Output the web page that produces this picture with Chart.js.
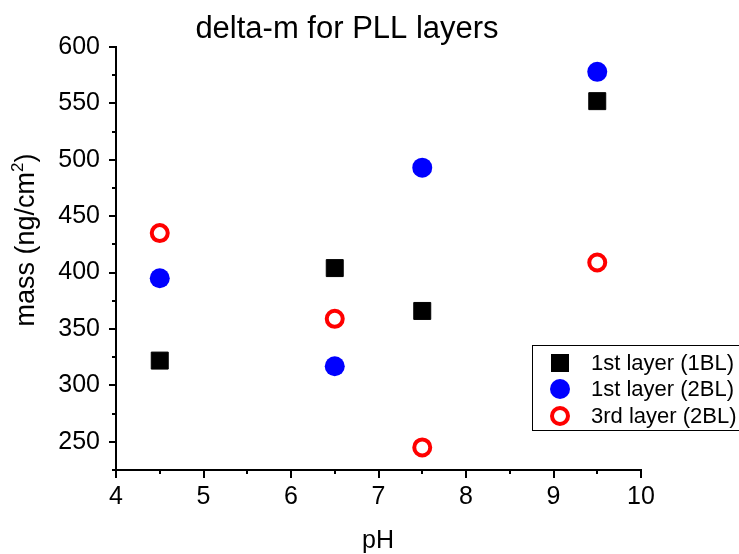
<!DOCTYPE html>
<html><head><meta charset="utf-8">
<script src="https://cdn.jsdelivr.net/npm/chart.js@4/dist/chart.umd.min.js"></script>
<style>html,body{margin:0;padding:0;background:#fff;overflow:hidden}</style>
</head><body>
<canvas id="c" width="739" height="554" style="display:block"></canvas>
<script>
const pH = [4.5, 6.5, 7.5, 9.5];
const layer1st1BL = [322, 404, 366, 552];
const layer1st2BL = [395, 317, 493, 578];
const layer3rd2BL = [435, 359, 245, 409];
const seriesNames = ['1st layer (1BL)', '1st layer (2BL)', '3rd layer (2BL)'];
const xTickValues = [4, 5, 6, 7, 8, 9, 10];
const xMinorValues = [4.5, 5.5, 6.5, 7.5, 8.5, 9.5];
const yTickValues = [250, 300, 350, 400, 450, 500, 550, 600];
const yMinorValues = [225, 275, 325, 375, 425, 475, 525, 575];
const chartTitle = 'delta-m for PLL layers';
const xTitle = 'pH';
const yTitleMain = 'mass (ng/cm';
const yTitleSup = '2';
const yTitleEnd = ')';

const FONT = '"Liberation Sans", Arial, sans-serif';

function pts(ys){ return pH.map((x,i)=>({x:x, y:ys[i]})); }

const decor = {
  id: 'decor',
  afterDraw(chart){
    const ctx = chart.ctx;
    const xs = chart.scales.x, ys = chart.scales.y;
    const ca = chart.chartArea;
    ctx.save();
    // minor ticks
    ctx.strokeStyle = '#000'; ctx.lineWidth = 2;
    ctx.beginPath();
    xMinorValues.forEach(v=>{ const px = Math.round(xs.getPixelForValue(v)); ctx.moveTo(px, ca.bottom); ctx.lineTo(px, ca.bottom+4); });
    yMinorValues.forEach(v=>{ const py = Math.round(ys.getPixelForValue(v)); ctx.moveTo(ca.left, py); ctx.lineTo(ca.left-4, py); });
    ctx.stroke();
    // title
    ctx.fillStyle = '#000';
    ctx.textAlign = 'center'; ctx.textBaseline = 'alphabetic';
    ctx.font = '31px ' + FONT;
    ctx.fillText(chartTitle, 347, 38);
    // x title
    ctx.font = '25px ' + FONT;
    ctx.fillText(xTitle, 378, 548);
    // y title with superscript
    ctx.save();
    ctx.translate(34, 240);
    ctx.rotate(-Math.PI/2);
    ctx.font = '27px ' + FONT;
    const w1 = ctx.measureText(yTitleMain).width;
    const w3 = ctx.measureText(yTitleEnd).width;
    ctx.font = '17px ' + FONT;
    const w2 = ctx.measureText(yTitleSup).width;
    const total = w1 + w2 + w3;
    let x0 = -total/2;
    ctx.textAlign = 'left';
    ctx.font = '27px ' + FONT;
    ctx.fillText(yTitleMain, x0, 0);
    ctx.font = '17px ' + FONT;
    ctx.fillText(yTitleSup, x0 + w1, -11);
    ctx.font = '27px ' + FONT;
    ctx.fillText(yTitleEnd, x0 + w1 + w2, 0);
    ctx.restore();
    // legend
    ctx.lineWidth = 1;
    ctx.strokeStyle = '#000';
    ctx.fillStyle = '#fff';
    ctx.fillRect(532.5, 345.5, 210, 85);
    ctx.strokeRect(532.5, 345.5, 210, 85);
    const rows = [363, 389, 416];
    const mx = 560;
    ctx.fillStyle = '#000';
    ctx.fillRect(mx-9, rows[0]-9, 18, 18);
    ctx.fillStyle = '#0000ff';
    ctx.beginPath(); ctx.arc(mx, rows[1], 10, 0, Math.PI*2); ctx.fill();
    ctx.strokeStyle = '#ff0000'; ctx.lineWidth = 4;
    ctx.beginPath(); ctx.arc(mx, rows[2], 8, 0, Math.PI*2); ctx.stroke();
    ctx.fillStyle = '#000';
    ctx.font = '22px ' + FONT;
    ctx.textAlign = 'left'; ctx.textBaseline = 'middle';
    seriesNames.forEach((n,i)=> ctx.fillText(n, 591, rows[i]+1));
    ctx.restore();
  }
};

new Chart(document.getElementById('c'), {
  type: 'scatter',
  data: {
    datasets: [
      { label: seriesNames[0], data: pts(layer1st1BL), pointStyle: 'rect', pointRadius: 12, pointHoverRadius: 12,
        backgroundColor: '#000000', borderColor: '#000000', borderWidth: 1 },
      { label: seriesNames[1], data: pts(layer1st2BL), pointStyle: 'circle', pointRadius: 10, pointHoverRadius: 10,
        backgroundColor: '#0000ff', borderColor: '#0000ff', borderWidth: 0 },
      { label: seriesNames[2], data: pts(layer3rd2BL), pointStyle: 'circle', pointRadius: 8, pointHoverRadius: 8,
        backgroundColor: '#ffffff', borderColor: '#ff0000', borderWidth: 4 }
    ]
  },
  options: {
    responsive: false,
    devicePixelRatio: 1,
    animation: false,
    layout: { padding: { left: 0, top: 47, right: 98, bottom: 0 } },
    plugins: { legend: { display: false }, title: { display: false }, tooltip: { enabled: false } },
    scales: {
      x: {
        type: 'linear', min: 4, max: 10,
        afterBuildTicks: s => { s.ticks = xTickValues.map(v => ({ value: v })); },
        afterFit: s => { s.height = 84; },
        grid: { drawOnChartArea: false, color: '#000', lineWidth: 2, tickLength: 8 },
        border: { display: true, color: '#000', width: 2 },
        ticks: { color: '#000', font: { family: FONT, size: 25 }, padding: 4, maxRotation: 0, autoSkip: false }
      },
      y: {
        type: 'linear', min: 225, max: 600,
        afterBuildTicks: s => { s.ticks = yTickValues.map(v => ({ value: v })); },
        afterFit: s => { s.width = 116; },
        grid: { drawOnChartArea: false, color: '#000', lineWidth: 2, tickLength: 7 },
        border: { display: true, color: '#000', width: 2 },
        ticks: { color: '#000', font: { family: FONT, size: 25 }, padding: 9, autoSkip: false }
      }
    }
  },
  plugins: [decor]
});
</script>
</body></html>
